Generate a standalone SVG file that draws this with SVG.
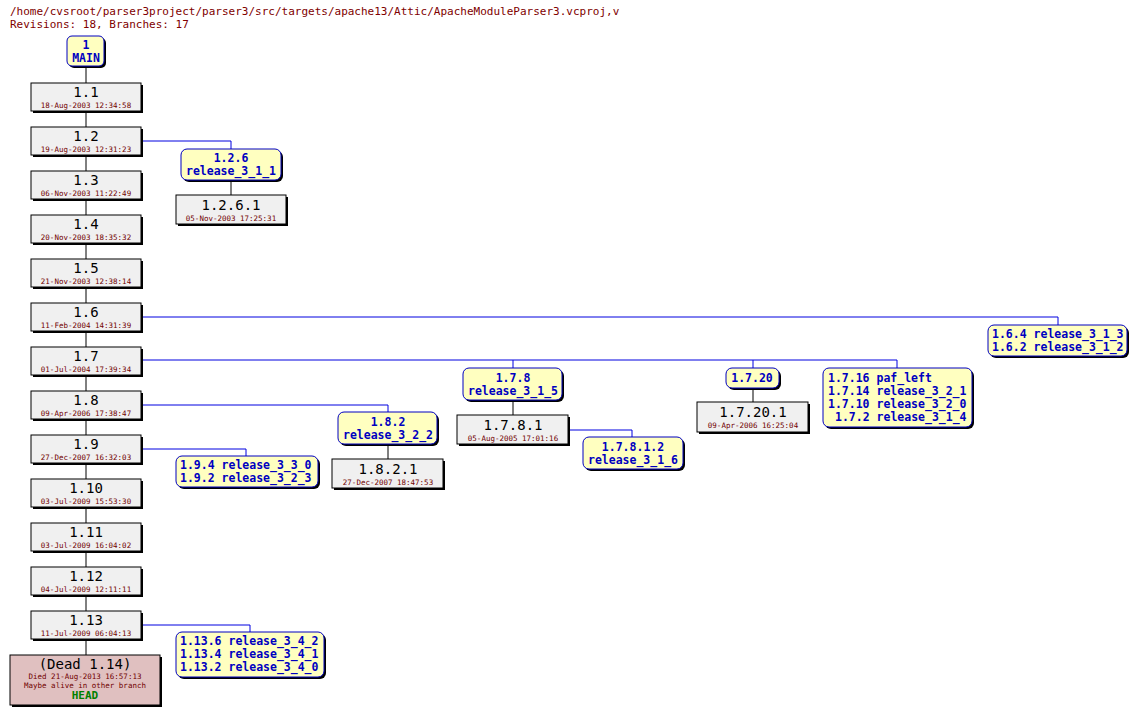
<svg xmlns="http://www.w3.org/2000/svg" width="1140" height="715" viewBox="0 0 1140 715">
<style>
text{font-family:"DejaVu Sans Mono","Liberation Mono",monospace}
.rev{fill:#f0f0f0;stroke:#000;stroke-width:1}
.sh{fill:#000}
.tag{fill:#ffffc0;stroke:#0000c0;stroke-width:1}
.n{font-size:14px;fill:#000;text-anchor:middle;transform:translateY(-2px)}
.d{font-size:7.5px;fill:#700000;text-anchor:middle;transform:translateY(1px)}
.t{font-size:11.5px;font-weight:bold;fill:#0000c0;text-anchor:middle}
.tl{font-size:11.5px;font-weight:bold;fill:#0000c0}
.c{fill:none;stroke:#000}
.b{fill:none;stroke:#0000e0}
</style>
<rect width="1140" height="715" fill="#fff"/>
<text x="10" y="15" font-size="11" fill="#800000">/home/cvsroot/parser3project/parser3/src/targets/apache13/Attic/ApacheModuleParser3.vcproj,v</text>
<text x="10" y="28" font-size="11" fill="#800000">Revisions: 18, Branches: 17</text>
<g id="connectors">
<path class="c" d="M86 66V655M513 400V415M753 388V402M231 180V195M388 444V459"/>
<path class="b" d="M141 141H231V149M141 317H1058V325M141 360H897V368M513 360V368M753 360V368M141 405H388V412M141 449H246V456M141 625H250V632M568 430H632V437"/>
</g>
<g id="MAIN"><rect class="sh" x="69" y="38" width="37" height="30" rx="5"/><rect class="tag" x="67" y="36" width="37" height="30" rx="5"/><text class="t" x="86" y="49">1</text><text class="t" x="86" y="62">MAIN</text></g>
<g id="revs">
<g id="r1.1"><rect class="sh" x="33" y="85" width="110" height="28"/><rect class="rev" x="31" y="83" width="110" height="28"/><text class="n" x="86" y="99">1.1</text><text class="d" x="86" y="107">18-Aug-2003 12:34:58</text></g>
<g id="r1.2"><rect class="sh" x="33" y="129" width="110" height="28"/><rect class="rev" x="31" y="127" width="110" height="28"/><text class="n" x="86" y="143">1.2</text><text class="d" x="86" y="151">19-Aug-2003 12:31:23</text></g>
<g id="r1.3"><rect class="sh" x="33" y="173" width="110" height="28"/><rect class="rev" x="31" y="171" width="110" height="28"/><text class="n" x="86" y="187">1.3</text><text class="d" x="86" y="195">06-Nov-2003 11:22:49</text></g>
<g id="r1.4"><rect class="sh" x="33" y="217" width="110" height="28"/><rect class="rev" x="31" y="215" width="110" height="28"/><text class="n" x="86" y="231">1.4</text><text class="d" x="86" y="239">20-Nov-2003 18:35:32</text></g>
<g id="r1.5"><rect class="sh" x="33" y="261" width="110" height="28"/><rect class="rev" x="31" y="259" width="110" height="28"/><text class="n" x="86" y="275">1.5</text><text class="d" x="86" y="283">21-Nov-2003 12:38:14</text></g>
<g id="r1.6"><rect class="sh" x="33" y="305" width="110" height="28"/><rect class="rev" x="31" y="303" width="110" height="28"/><text class="n" x="86" y="319">1.6</text><text class="d" x="86" y="327">11-Feb-2004 14:31:39</text></g>
<g id="r1.7"><rect class="sh" x="33" y="349" width="110" height="28"/><rect class="rev" x="31" y="347" width="110" height="28"/><text class="n" x="86" y="363">1.7</text><text class="d" x="86" y="371">01-Jul-2004 17:39:34</text></g>
<g id="r1.8"><rect class="sh" x="33" y="393" width="110" height="28"/><rect class="rev" x="31" y="391" width="110" height="28"/><text class="n" x="86" y="407">1.8</text><text class="d" x="86" y="415">09-Apr-2006 17:38:47</text></g>
<g id="r1.9"><rect class="sh" x="33" y="437" width="110" height="28"/><rect class="rev" x="31" y="435" width="110" height="28"/><text class="n" x="86" y="451">1.9</text><text class="d" x="86" y="459">27-Dec-2007 16:32:03</text></g>
<g id="r1.10"><rect class="sh" x="33" y="481" width="110" height="28"/><rect class="rev" x="31" y="479" width="110" height="28"/><text class="n" x="86" y="495">1.10</text><text class="d" x="86" y="503">03-Jul-2009 15:53:30</text></g>
<g id="r1.11"><rect class="sh" x="33" y="525" width="110" height="28"/><rect class="rev" x="31" y="523" width="110" height="28"/><text class="n" x="86" y="539">1.11</text><text class="d" x="86" y="547">03-Jul-2009 16:04:02</text></g>
<g id="r1.12"><rect class="sh" x="33" y="569" width="110" height="28"/><rect class="rev" x="31" y="567" width="110" height="28"/><text class="n" x="86" y="583">1.12</text><text class="d" x="86" y="591">04-Jul-2009 12:11:11</text></g>
<g id="r1.13"><rect class="sh" x="33" y="613" width="110" height="28"/><rect class="rev" x="31" y="611" width="110" height="28"/><text class="n" x="86" y="627">1.13</text><text class="d" x="86" y="635">11-Jul-2009 06:04:13</text></g>
<g id="dead"><rect class="sh" x="12" y="657" width="150" height="50"/><rect x="10" y="655" width="150" height="50" fill="#e0c0c0" stroke="#000"/><text class="n" x="85" y="671">(Dead 1.14)</text><text class="d" x="85" y="678">Died 21-Aug-2013 16:57:13</text><text class="d" x="85" y="687">Maybe alive in other branch</text><text x="85" y="699" font-size="11" font-weight="bold" fill="#008000" text-anchor="middle">HEAD</text></g>
<g id="r1.2.6.1"><rect class="sh" x="178" y="197" width="110" height="29"/><rect class="rev" x="176" y="195" width="110" height="29"/><text class="n" x="231" y="212">1.2.6.1</text><text class="d" x="231" y="220">05-Nov-2003 17:25:31</text></g>
<g id="r1.7.8.1"><rect class="sh" x="459" y="417" width="111" height="29"/><rect class="rev" x="457" y="415" width="111" height="29"/><text class="n" x="513" y="432">1.7.8.1</text><text class="d" x="513" y="440">05-Aug-2005 17:01:16</text></g>
<g id="r1.7.20.1"><rect class="sh" x="699" y="404" width="111" height="30"/><rect class="rev" x="697" y="402" width="111" height="30"/><text class="n" x="753" y="419">1.7.20.1</text><text class="d" x="753" y="427">09-Apr-2006 16:25:04</text></g>
<g id="r1.8.2.1"><rect class="sh" x="334" y="461" width="111" height="29"/><rect class="rev" x="332" y="459" width="111" height="29"/><text class="n" x="388" y="476">1.8.2.1</text><text class="d" x="388" y="484">27-Dec-2007 18:47:53</text></g>
</g>
<g id="tags">
<g id="t1.2.6"><rect class="sh" x="183" y="151" width="100" height="31" rx="6"/><rect class="tag" x="181" y="149" width="100" height="31" rx="6"/><text class="t" x="231" y="162">1.2.6</text><text class="t" x="231" y="175">release_3_1_1</text></g>
<g id="t1.6"><rect class="sh" x="990" y="327" width="139" height="31" rx="6"/><rect class="tag" x="988" y="325" width="139" height="31" rx="6"/><text class="tl" x="992" y="338">1.6.4 release_3_1_3</text><text class="tl" x="992" y="351">1.6.2 release_3_1_2</text></g>
<g id="t1.7.8"><rect class="sh" x="465" y="370" width="99" height="32" rx="6"/><rect class="tag" x="463" y="368" width="99" height="32" rx="6"/><text class="t" x="513" y="382">1.7.8</text><text class="t" x="513" y="395">release_3_1_5</text></g>
<g id="t1.7.8.1.2"><rect class="sh" x="585" y="439" width="100" height="32" rx="6"/><rect class="tag" x="583" y="437" width="100" height="32" rx="6"/><text class="t" x="633" y="451">1.7.8.1.2</text><text class="t" x="633" y="464">release_3_1_6</text></g>
<g id="t1.7.20"><rect class="sh" x="728" y="370" width="53" height="20" rx="6"/><rect class="tag" x="726" y="368" width="53" height="20" rx="6"/><text class="t" x="752" y="382">1.7.20</text></g>
<g id="t1.7.16"><rect class="sh" x="825" y="370" width="149" height="59" rx="6"/><rect class="tag" x="823" y="368" width="149" height="59" rx="6"/><text class="tl" x="828" y="382">1.7.16 paf_left</text><text class="tl" x="828" y="395">1.7.14 release_3_2_1</text><text class="tl" x="828" y="408">1.7.10 release_3_2_0</text><text class="tl" x="835" y="421">1.7.2 release_3_1_4</text></g>
<g id="t1.8.2"><rect class="sh" x="340" y="414" width="99" height="32" rx="6"/><rect class="tag" x="338" y="412" width="99" height="32" rx="6"/><text class="t" x="388" y="426">1.8.2</text><text class="t" x="388" y="439">release_3_2_2</text></g>
<g id="t1.9"><rect class="sh" x="178" y="458" width="142" height="31" rx="6"/><rect class="tag" x="176" y="456" width="142" height="31" rx="6"/><text class="tl" x="180" y="469">1.9.4 release_3_3_0</text><text class="tl" x="180" y="482">1.9.2 release_3_2_3</text></g>
<g id="t1.13"><rect class="sh" x="178" y="634" width="148" height="45" rx="6"/><rect class="tag" x="176" y="632" width="148" height="45" rx="6"/><text class="tl" x="180" y="645">1.13.6 release_3_4_2</text><text class="tl" x="180" y="658">1.13.4 release_3_4_1</text><text class="tl" x="180" y="671">1.13.2 release_3_4_0</text></g>
</g>
</svg>
